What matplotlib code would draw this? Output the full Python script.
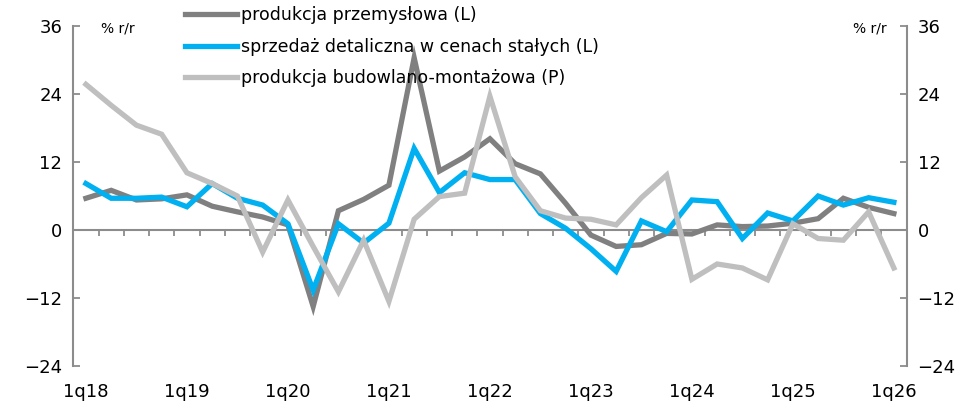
import matplotlib
matplotlib.use("Agg")
import matplotlib.pyplot as plt
import numpy as np

plt.rcParams.update({
    "font.family": "DejaVu Sans",
    "font.size": 12,
})

# quarterly data 1q18 .. 1q26
quarters = [f"{q}q{y}" for y in range(18, 27) for q in range(1, 5)][:33]
tick_labels = ["1q18", "1q19", "1q20", "1q21", "1q22", "1q23", "1q24", "1q25", "1q26"]

industry = [5.6, 7.0, 5.3, 5.5, 6.2, 4.2, 3.2, 2.3, 0.9, -13.5, 3.4, 5.4, 7.9,
            30.4, 10.4, 12.9, 16.1, 11.7, 9.9, 4.7, -0.9, -2.9, -2.6, -0.6,
            -0.7, 0.9, 0.6, 0.7, 1.2, 2.0, 5.6, 4.0, 2.9]
retail = [8.2, 5.6, 5.6, 5.8, 4.1, 8.2, 5.6, 4.4, 1.1, -10.6, 1.1, -2.3, 1.2,
          14.4, 6.6, 10.1, 8.9, 8.9, 2.9, 0.3, -3.3, -7.3, 1.6, -0.3,
          5.3, 5.0, -1.5, 3.0, 1.6, 6.0, 4.4, 5.7, 4.9]
construction = [25.7, 22.0, 18.5, 16.9, 10.1, 8.2, 6.0, -3.9, 5.3, -2.9, -10.9, -1.8, -12.6,
                1.9, 5.9, 6.5, 23.6, 9.4, 3.4, 2.1, 1.9, 0.9, 5.7, 9.7,
                -8.7, -6.0, -6.7, -8.8, 1.1, -1.5, -1.8, 3.2, -6.7]

C_IND = "#808080"
C_RET = "#00B0F0"
C_CON = "#BFBFBF"
AXC = "#8c8c8c"

fig = plt.figure(figsize=(9.71, 4.08), dpi=100)
ax = fig.add_axes([73.3 / 971, 1 - 366 / 408, (906.5 - 73.3) / 971, (366 - 26) / 408])
x = np.arange(len(quarters))

l1, = ax.plot(x, industry, color=C_IND, lw=3.8, solid_joinstyle="miter", label="produkcja przemysłowa (L)")
l2, = ax.plot(x, retail, color=C_RET, lw=3.8, solid_joinstyle="miter", label="sprzedaż detaliczna w cenach stałych (L)")

ax2 = ax.twinx()
l3, = ax2.plot(x, construction, color=C_CON, lw=3.8, solid_joinstyle="miter", label="produkcja budowlano-montażowa (P)")

for a in (ax, ax2):
    a.set_xlim(-0.5, len(quarters) - 0.5)
    a.set_ylim(-24, 36)
    a.set_yticks(np.arange(-24, 37, 12))
    for s in ("top", "bottom"):
        a.spines[s].set_visible(False)
    a.tick_params(axis="y", direction="in", length=5, width=1.3, color=AXC, labelsize=13, pad=8)
    a.spines["left"].set_color(AXC)
    a.spines["right"].set_color(AXC)
    a.spines["left"].set_linewidth(1.5)
    a.spines["right"].set_linewidth(1.5)
ax.spines["right"].set_visible(False)
ax2.spines["left"].set_visible(False)

# zero line with category ticks
ax.axhline(0, color=AXC, lw=1.5, zorder=1)
ax.tick_params(axis="x", bottom=False, labelbottom=False)
for b in np.arange(0.5, len(quarters) - 0.5, 1):
    ax.plot([b, b], [0, -1.0], color=AXC, lw=1.3, zorder=1, solid_capstyle="butt")

for i, q in enumerate(quarters):
    if q in tick_labels:
        ax.text(i, -0.077, q, transform=ax.get_xaxis_transform(), ha="center", va="center", fontsize=13)

fig.text(118 / 971, 1 - 28 / 408, "% r/r", ha="center", va="center", fontsize=10)
fig.text(870 / 971, 1 - 28 / 408, "% r/r", ha="center", va="center", fontsize=10)

fig.legend(handles=[l1, l2, l3], loc="upper left", bbox_to_anchor=(178 / 971, 1 + 0.5 / 408),
           frameon=False, fontsize=12.5, handlelength=3.0, handletextpad=0.2,
           labelspacing=0.76, borderaxespad=0)

fig.savefig("out.png", dpi=100)
